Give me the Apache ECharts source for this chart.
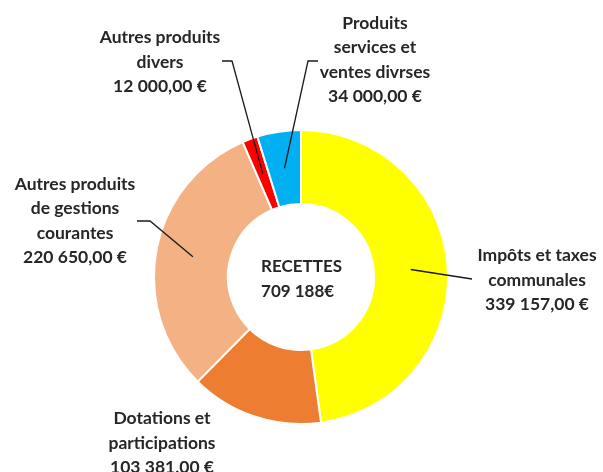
<!DOCTYPE html>
<html>
<head>
<meta charset="utf-8">
<script src="https://cdn.jsdelivr.net/npm/echarts@6/dist/echarts.min.js"></script>
<style>
  html, body { margin: 0; padding: 0; background: #fff; }
  #pie { width: 603px; height: 472px; }
</style>
</head>
<body>
<div id="pie"></div>
<script>
// postes de recettes (ordre horaire depuis le haut)
var categories = [
    'Impôts et taxes\ncommunales',
    'Dotations et\nparticipations',
    'Autres produits\nde gestions\ncourantes',
    'Autres produits\ndivers',
    'Produits\nservices et\nventes divrses'
]
var values = [339157, 103381, 220650, 12000, 34000]
var colors = ['#FFFF00', '#ED7D31', '#F4B183', '#FF0000', '#00B0F0']
var centerTitle = 'RECETTES'

// position des étiquettes (x, y du bloc) et coude des traits de rappel
var labelPos = [
    { x: 537, y: 280, end: [472, 279] },
    { x: 162, y: 443, end: null },
    { x: 75, y: 221, elbow: [150, 221], end: [137, 221] },
    { x: 160, y: 62, elbow: [232, 61], end: [222, 61] },
    { x: 375, y: 60, elbow: [308, 61], end: [318, 61] }
]

function fmt(n, dec) {
    var parts = n.toFixed(dec).split('.')
    var s = parts[0].replace(/\B(?=(\d{3})+(?!\d))/g, ' ')
    return dec ? s + ',' + parts[1] : s
}

var total = 0
for (var i in values) total += values[i]

var ringData = []
var labelData = []
for (var i = 0; i < categories.length; i++) {
    ringData.push({ name: categories[i], value: values[i], itemStyle: { color: colors[i] } })
    labelData.push({
        name: categories[i],
        value: values[i],
        labelLine: { show: labelPos[i].end != null }
    })
}

var FONT = 'Lato, "Liberation Sans", sans-serif'
var pieChart = echarts.init(document.getElementById('pie'))

var pieOption = {
    animation: false,
    series: [
        {
            type: 'pie',
            z: 2,
            center: [301, 277],
            radius: [73, 147],
            startAngle: 90,
            clockwise: true,
            silent: true,
            label: { show: false },
            labelLine: { show: false },
            itemStyle: { borderColor: '#fff', borderWidth: 2 },
            data: ringData
        },
        {
            // série invisible : porte les étiquettes, traits partant du milieu de l'anneau
            type: 'pie',
            z: 5,
            center: [301, 277],
            radius: [0, 110],
            startAngle: 90,
            clockwise: true,
            silent: true,
            avoidLabelOverlap: false,
            itemStyle: { color: 'rgba(0,0,0,0)' },
            label: {
                show: true,
                position: 'outside',
                formatter: function (p) {
                    return p.name + '\n' + fmt(p.value, 2) + ' €'
                },
                color: '#262626',
                fontFamily: FONT,
                fontWeight: 'bold',
                fontSize: 17.5,
                lineHeight: 24.5,
                align: 'center'
            },
            labelLine: {
                show: true,
                length: 10,
                length2: 10,
                lineStyle: { color: '#1a1a1a', width: 1.3 }
            },
            labelLayout: function (params) {
                var lp = labelPos[params.dataIndex]
                var out = { x: lp.x, y: lp.y, align: 'center', verticalAlign: 'middle' }
                if (lp.end && params.labelLinePoints) {
                    var a = params.labelLinePoints[0]
                    out.labelLinePoints = lp.elbow ? [a, lp.elbow, lp.end] : [a, lp.end]
                }
                return out
            },
            data: labelData
        }
    ],
    graphic: [
        {
            type: 'text',
            left: 'center',
            top: 254,
            style: {
                text: centerTitle + '\n' + fmt(total, 0) + '€',
                align: 'center',
                fill: '#262626',
                font: 'bold 17px ' + FONT,
                lineHeight: 25
            }
        }
    ]
}
pieChart.setOption(pieOption)
</script>
</body>
</html>
